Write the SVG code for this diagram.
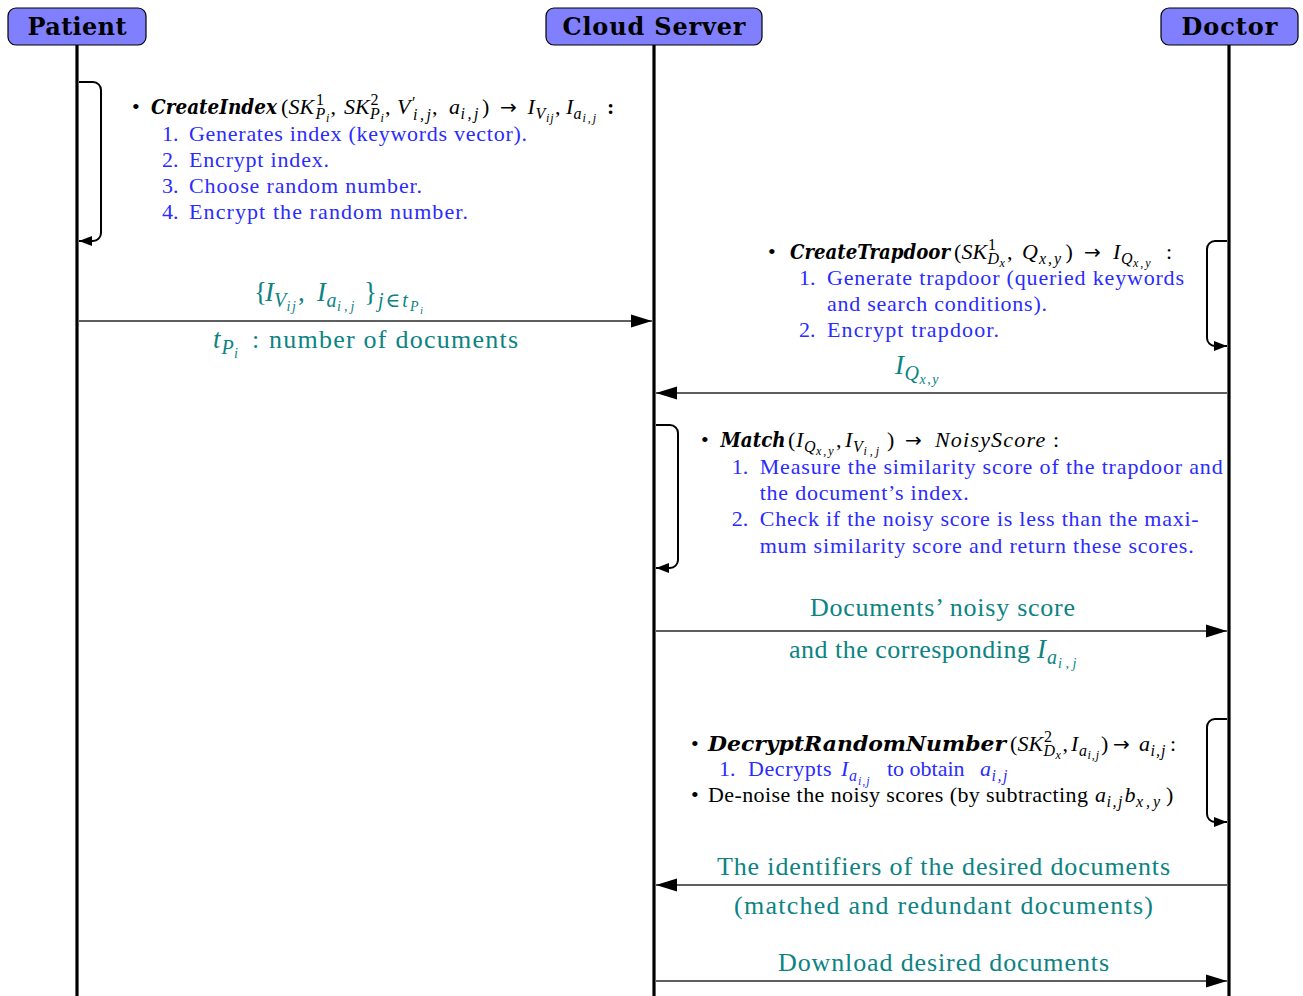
<svg xmlns="http://www.w3.org/2000/svg" width="1303" height="996" viewBox="0 0 1303 996">
<style>
text{font-family:"Liberation Serif","DejaVu Serif",serif;font-size:22px;fill:#000}
.hd{font-family:"DejaVu Serif","Liberation Serif",serif;font-size:24px;font-weight:bold;text-anchor:middle}
.s{font-size:16px}
.ss{font-size:12px}
.i{font-style:italic}
.bi{font-family:"DejaVu Serif","Liberation Serif",serif;font-size:20px;font-weight:bold;font-style:italic}
.ar{font-family:"DejaVu Sans",sans-serif;font-size:20px;font-style:normal}
.b{font-weight:bold}
.bl{fill:#2b2bff}
.tl{fill:#0c8383}
.L{font-size:26px}
.Lm{font-size:27px}
.Ls{font-size:20px}
.Lss{font-size:14px}
.life{stroke:#000;stroke-width:3.2}
.loop{fill:none;stroke:#000;stroke-width:2;marker-end:url(#la)}
.msg{fill:none;stroke:#2a2a2a;stroke-width:1.3;marker-end:url(#ma)}
.box{fill:#8080ff;stroke:#000;stroke-width:1.2}
</style>
<defs>
<marker id="ma" markerUnits="userSpaceOnUse" markerWidth="22" markerHeight="14" refX="21" refY="7" orient="auto"><path d="M0,0.5 L21,7 L0,13.5 z" fill="#000"/></marker>
<marker id="la" markerUnits="userSpaceOnUse" markerWidth="14" markerHeight="12" refX="13" refY="6" orient="auto"><path d="M0,1 L13,6 L0,11 z" fill="#000"/></marker>
</defs>
<rect width="1303" height="996" fill="#fff"/>

<g id="lifelines">
<line class="life" x1="77" y1="45" x2="77" y2="996"/>
<line class="life" x1="654" y1="45" x2="654" y2="996"/>
<line class="life" x1="1229" y1="45" x2="1229" y2="996"/>
</g>

<g id="patient"><rect class="box" x="8" y="8" width="138" height="37" rx="8"/><text class="hd" x="77" y="35" textLength="99">Patient</text></g>
<g id="cloud"><rect class="box" x="546" y="8" width="216" height="37" rx="8"/><text class="hd" x="654" y="35" textLength="183">Cloud Server</text></g>
<g id="doctor"><rect class="box" x="1161" y="8" width="137" height="37" rx="8"/><text class="hd" x="1229.5" y="35" textLength="96">Doctor</text></g>

<g id="connectors">
<path class="loop" d="M79,82 H93 A8,8 0 0 1 101,90 V233 A8,8 0 0 1 93,241 H79"/>
<path class="loop" d="M1227,241 H1215 A8,8 0 0 0 1207,249 V338 A8,8 0 0 0 1215,346 H1227"/>
<path class="loop" d="M656,425 H670 A8,8 0 0 1 678,433 V560 A8,8 0 0 1 670,568 H656"/>
<path class="loop" d="M1227,719 H1215 A8,8 0 0 0 1207,727 V814 A8,8 0 0 0 1215,822 H1227"/>
<path class="msg" d="M79,321 H652"/>
<path class="msg" d="M1227,393 H656"/>
<path class="msg" d="M656,631 H1227"/>
<path class="msg" d="M1227,885 H656"/>
<path class="msg" d="M656,981 H1227"/>
</g>

<g id="createIndex">
<text x="132" y="114">•</text>
<text x="151" y="114"><tspan class="bi" textLength="126" lengthAdjust="spacingAndGlyphs">CreateIndex</tspan><tspan x="281" y="114">(</tspan><tspan class="i" x="288.5" y="114">SK</tspan><tspan class="s" x="316" y="105">1</tspan><tspan class="s i" x="315.5" y="119">P</tspan><tspan class="ss i" x="326" y="122">i</tspan><tspan x="330.5" y="114">,</tspan><tspan class="i" x="344" y="114">SK</tspan><tspan class="s" x="370.5" y="105">2</tspan><tspan class="s i" x="370" y="119">P</tspan><tspan class="ss i" x="380.5" y="122">i</tspan><tspan x="385" y="114">,</tspan><tspan class="i" x="397" y="114">V</tspan><tspan class="s" x="412" y="108">′</tspan><tspan class="s i" style="letter-spacing:2.5px" x="413" y="120">i,j</tspan><tspan x="432" y="114">,</tspan><tspan class="i" x="449" y="114">a</tspan><tspan class="s i" style="letter-spacing:2.5px" x="460.5" y="119">i,j</tspan><tspan x="482" y="114">)</tspan><tspan class="ar" x="500" y="114">→</tspan><tspan class="i" x="527.6" y="114">I</tspan><tspan class="s i" x="535.5" y="119">V</tspan><tspan class="ss i" style="letter-spacing:1px" x="546" y="122">ij</tspan><tspan x="555" y="114">,</tspan><tspan class="i" x="566" y="114">I</tspan><tspan class="s i" x="573.5" y="119">a</tspan><tspan class="ss i" style="letter-spacing:2px" x="582.5" y="122">i,j</tspan><tspan class="b" x="607" y="114">:</tspan></text>
<text class="bl" x="162" y="141">1.</text><text class="bl" x="189" y="141" textLength="338">Generates index (keywords vector).</text>
<text class="bl" x="162" y="167">2.</text><text class="bl" x="189" y="167" textLength="140">Encrypt index.</text>
<text class="bl" x="162" y="193">3.</text><text class="bl" x="189" y="193" textLength="233">Choose random number.</text>
<text class="bl" x="162" y="219">4.</text><text class="bl" x="189" y="219" textLength="279">Encrypt the random number.</text>
</g>

<g id="msg1-labels">
<text class="Lm tl" x="254" y="301">{<tspan class="i" x="265" y="301">I</tspan><tspan class="Ls i" x="274" y="307">V</tspan><tspan class="Lss i" style="letter-spacing:1.5px" x="286.5" y="311">ij</tspan><tspan x="298" y="301">,</tspan><tspan class="i" x="317" y="301">I</tspan><tspan class="Ls i" x="326.5" y="307">a</tspan><tspan class="Lss i" style="letter-spacing:3px" x="337" y="311">i,j</tspan><tspan x="364" y="301">}</tspan><tspan class="Ls i" style="letter-spacing:2px" x="378" y="307">j∈t</tspan><tspan class="Lss i" x="410" y="311">P</tspan><tspan class="i" style="font-size:11px" x="420" y="314">i</tspan></text>
<text class="Lm tl i" x="213" y="348">t<tspan class="Ls" x="221.5" y="354">P</tspan><tspan class="Lss" x="234" y="358">i</tspan><tspan class="L" style="font-style:normal" x="252" y="348">:</tspan></text>
<text class="L tl" x="269" y="348" textLength="249">number of documents</text>
</g>

<g id="createTrapdoor">
<text x="768" y="259">•</text>
<text x="790" y="259"><tspan class="bi" textLength="160" lengthAdjust="spacingAndGlyphs">CreateTrapdoor</tspan><tspan x="954" y="259">(</tspan><tspan class="i" x="961.5" y="259">SK</tspan><tspan class="s" x="988" y="250">1</tspan><tspan class="s i" x="987.5" y="264">D</tspan><tspan class="ss i" x="999.5" y="267">x</tspan><tspan x="1007" y="259">,</tspan><tspan class="i" x="1022" y="259">Q</tspan><tspan class="s i" style="letter-spacing:2px" x="1039" y="264">x,y</tspan><tspan x="1065.5" y="259">)</tspan><tspan class="ar" x="1084" y="259">→</tspan><tspan class="i" x="1113" y="259">I</tspan><tspan class="s i" x="1121" y="264">Q</tspan><tspan class="ss i" style="letter-spacing:2px" x="1133" y="267">x,y</tspan><tspan x="1166" y="259">:</tspan></text>
<text class="bl" x="799" y="285">1.</text><text class="bl" x="827" y="285" textLength="357">Generate trapdoor (queried keywords</text>
<text class="bl" x="827" y="311" textLength="220">and search conditions).</text>
<text class="bl" x="799" y="337">2.</text><text class="bl" x="827" y="337" textLength="172">Encrypt trapdoor.</text>
</g>

<g id="msg2-label">
<text class="Lm tl i" x="895" y="374">I<tspan class="Ls" x="904.5" y="380">Q</tspan><tspan class="Lss" style="letter-spacing:1.5px" x="919.5" y="384">x,y</tspan></text>
</g>

<g id="match">
<text x="701" y="447">•</text>
<text x="720.6" y="447"><tspan class="bi" textLength="65" lengthAdjust="spacingAndGlyphs">Match</tspan><tspan x="788" y="447">(</tspan><tspan class="i" x="796" y="447">I</tspan><tspan class="s i" x="804" y="452">Q</tspan><tspan class="ss i" style="letter-spacing:2px" x="816" y="455">x,y</tspan><tspan x="836" y="447">,</tspan><tspan class="i" x="845" y="447">I</tspan><tspan class="s i" x="853" y="452">V</tspan><tspan class="ss i" style="letter-spacing:3px" x="863.5" y="455">i,j</tspan><tspan x="887" y="447">)</tspan><tspan class="ar" x="905" y="447">→</tspan><tspan class="i" style="letter-spacing:1.2px" x="935" y="447">NoisyScore</tspan><tspan x="1053" y="447">:</tspan></text>
<text class="bl" x="731.8" y="474">1.</text><text class="bl" x="759.7" y="474" textLength="463">Measure the similarity score of the trapdoor and</text>
<text class="bl" x="759.7" y="500" textLength="209">the document’s index.</text>
<text class="bl" x="731.8" y="526">2.</text><text class="bl" x="759.7" y="526" textLength="439">Check if the noisy score is less than the maxi-</text>
<text class="bl" x="759.7" y="553" textLength="434">mum similarity score and return these scores.</text>
</g>

<g id="msg3-labels">
<text class="L tl" x="810" y="616" textLength="265">Documents’ noisy score</text>
<text class="L tl" x="789" y="658" textLength="241">and the corresponding</text>
<text class="Lm tl i" x="1037" y="658">I<tspan class="Ls" x="1047" y="664">a</tspan><tspan class="Lss" style="letter-spacing:3.5px" x="1058" y="668">i,j</tspan></text>
</g>

<g id="decryptRandomNumber">
<text x="691" y="751">•</text>
<text x="708" y="751"><tspan class="bi" textLength="298" lengthAdjust="spacingAndGlyphs">DecryptRandomNumber</tspan><tspan x="1010" y="751">(</tspan><tspan class="i" x="1017.5" y="751">SK</tspan><tspan class="s" x="1044" y="742">2</tspan><tspan class="s i" x="1043.5" y="756">D</tspan><tspan class="ss i" x="1055.5" y="759">x</tspan><tspan x="1062.5" y="751">,</tspan><tspan class="i" x="1071" y="751">I</tspan><tspan class="s i" x="1079" y="756">a</tspan><tspan class="ss i" style="letter-spacing:1px" x="1087.5" y="759">i,j</tspan><tspan x="1101" y="751">)</tspan><tspan class="ar" x="1113" y="751">→</tspan><tspan class="i" x="1139" y="751">a</tspan><tspan class="s i" style="letter-spacing:1px" x="1150.5" y="756">i,j</tspan><tspan x="1170" y="751">:</tspan></text>
<text class="bl" x="719" y="776">1.</text>
<text class="bl" x="748" y="776"><tspan style="letter-spacing:0.6px">Decrypts</tspan><tspan class="i" x="841" y="776">I</tspan><tspan class="s i" x="849" y="781">a</tspan><tspan class="ss i" style="letter-spacing:1px" x="858" y="785">i,j</tspan><tspan x="887" y="776">to obtain</tspan><tspan class="i" x="980" y="776">a</tspan><tspan class="s i" style="letter-spacing:1.5px" x="991.5" y="781">i,j</tspan></text>
<text x="691" y="802">•</text>
<text x="708" y="802" textLength="380">De-noise the noisy scores (by subtracting</text>
<text x="1095" y="802"><tspan class="i">a</tspan><tspan class="s i" style="letter-spacing:1.5px" x="1106.5" y="807">i,j</tspan><tspan class="i" x="1124.5" y="802">b</tspan><tspan class="s i" style="letter-spacing:3px" x="1136" y="807">x,y</tspan><tspan x="1166" y="802">)</tspan></text>
</g>

<g id="msg4-labels">
<text class="L tl" x="717" y="875" textLength="453">The identifiers of the desired documents</text>
<text class="L tl" x="734" y="914" textLength="419">(matched and redundant documents)</text>
</g>

<g id="msg5-label">
<text class="L tl" x="778" y="971" textLength="331">Download desired documents</text>
</g>
</svg>
